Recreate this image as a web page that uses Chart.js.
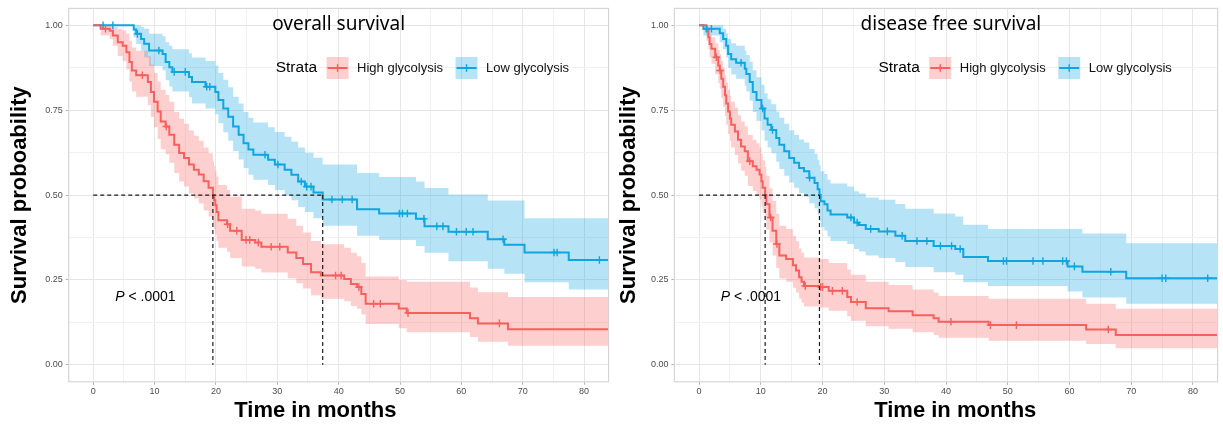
<!DOCTYPE html>
<html>
<head>
<meta charset="utf-8">
<script src="https://cdn.jsdelivr.net/npm/chart.js@4.4.1/dist/chart.umd.min.js"></script>
<style>
  body { margin: 0; background: #fff; }
  #wrap { position: relative; width: 1223px; height: 425px; }
  #os-chart { position: absolute; left: 0; top: 0; }
  #dfs-chart { position: absolute; left: 614px; top: 0; }
</style>
</head>
<body>
<div id="wrap">
  <canvas id="os-chart" width="614" height="425"></canvas>
  <canvas id="dfs-chart" width="609" height="425"></canvas>
</div>
<script>
// ---- overall survival, high glycolysis
const osHighTime  = [0, 1.2, 2.7, 3.2, 4.0, 4.8, 5.4, 5.9, 6.3, 7.0, 8.9, 9.4, 9.9, 10.5, 11.0, 11.8, 12.4, 13.2, 14.0, 14.8, 15.6, 16.4, 17.2, 18.0, 18.8, 19.5, 19.7, 19.9, 20.1, 20.4, 21.8, 22.3, 24.2, 26.4, 27.4, 31.7, 33.1, 34.2, 35.5, 37.1, 40.9, 42.0, 43.0, 43.7, 44.4, 49.8, 51.1, 61.4, 62.7, 67.6, 84];
const osHighSurv  = [1, 0.99, 0.984, 0.97, 0.95, 0.94, 0.921, 0.892, 0.867, 0.853, 0.833, 0.804, 0.775, 0.746, 0.717, 0.702, 0.678, 0.648, 0.624, 0.609, 0.59, 0.575, 0.561, 0.541, 0.522, 0.5, 0.485, 0.47, 0.45, 0.426, 0.414, 0.395, 0.368, 0.36, 0.348, 0.331, 0.315, 0.297, 0.273, 0.263, 0.253, 0.238, 0.229, 0.209, 0.18, 0.166, 0.153, 0.137, 0.122, 0.105, 0.105];
const osHighLower = [1, 0.97, 0.96, 0.94, 0.91, 0.895, 0.87, 0.835, 0.805, 0.79, 0.765, 0.73, 0.7, 0.665, 0.635, 0.62, 0.595, 0.565, 0.54, 0.525, 0.505, 0.49, 0.475, 0.455, 0.437, 0.415, 0.4, 0.385, 0.365, 0.345, 0.333, 0.315, 0.29, 0.283, 0.272, 0.255, 0.24, 0.225, 0.205, 0.195, 0.187, 0.173, 0.165, 0.148, 0.12, 0.108, 0.096, 0.082, 0.068, 0.056, 0.056];
const osHighUpper = [1, 1, 1, 0.995, 0.99, 0.985, 0.975, 0.955, 0.935, 0.925, 0.91, 0.885, 0.86, 0.835, 0.81, 0.795, 0.775, 0.745, 0.725, 0.71, 0.69, 0.675, 0.66, 0.64, 0.623, 0.6, 0.585, 0.57, 0.555, 0.53, 0.515, 0.495, 0.46, 0.455, 0.445, 0.43, 0.41, 0.39, 0.365, 0.355, 0.345, 0.33, 0.32, 0.3, 0.26, 0.25, 0.245, 0.228, 0.214, 0.2, 0.2];
const osHighCensor = [2.0, 8.0, 11.9, 21.9, 23.4, 24.9, 25.5, 26.9, 29.0, 30.4, 39.5, 40.4, 43.3, 45.7, 46.8, 51.3, 66.2];

// ---- overall survival, low glycolysis
const osLowTime  = [0, 6.6, 7.0, 7.8, 8.3, 9.1, 11.3, 11.8, 12.4, 12.9, 15.6, 16.1, 18.3, 19.9, 20.4, 21.2, 22.0, 22.8, 23.7, 24.5, 25.3, 26.1, 28.5, 29.6, 31.2, 32.3, 33.4, 34.5, 35.9, 37.4, 43.0, 46.6, 52.6, 54.0, 57.9, 64.3, 67.0, 70.3, 77.5, 84];
const osLowSurv  = [1, 0.988, 0.975, 0.96, 0.946, 0.926, 0.916, 0.892, 0.877, 0.863, 0.848, 0.833, 0.819, 0.804, 0.78, 0.755, 0.731, 0.702, 0.678, 0.653, 0.634, 0.619, 0.604, 0.59, 0.575, 0.56, 0.54, 0.525, 0.508, 0.487, 0.458, 0.446, 0.43, 0.408, 0.392, 0.37, 0.354, 0.331, 0.309, 0.309];
const osLowLower = [1, 0.965, 0.945, 0.925, 0.905, 0.88, 0.868, 0.838, 0.82, 0.805, 0.788, 0.77, 0.755, 0.738, 0.712, 0.685, 0.66, 0.63, 0.605, 0.58, 0.56, 0.545, 0.53, 0.515, 0.5, 0.485, 0.465, 0.45, 0.432, 0.41, 0.38, 0.368, 0.35, 0.33, 0.305, 0.283, 0.268, 0.243, 0.222, 0.222];
const osLowUpper = [1, 1, 1, 0.995, 0.99, 0.975, 0.968, 0.95, 0.94, 0.93, 0.918, 0.905, 0.895, 0.882, 0.86, 0.84, 0.818, 0.79, 0.77, 0.745, 0.728, 0.714, 0.7, 0.686, 0.672, 0.658, 0.64, 0.625, 0.61, 0.59, 0.565, 0.553, 0.54, 0.521, 0.502, 0.484, 0.484, 0.432, 0.432, 0.432];
const osLowCensor = [1.6, 3.2, 7.2, 10.7, 13.2, 15.0, 18.5, 19.0, 28.0, 30.1, 33.9, 34.8, 35.5, 38.9, 40.6, 42.2, 49.9, 50.4, 51.2, 53.9, 56.0, 57.0, 59.2, 60.8, 61.9, 66.8, 75.1, 75.6, 82.5];

// ---- disease free survival, high glycolysis
const dfsHighTime  = [0, 1.2, 1.5, 1.7, 2.0, 2.6, 3.1, 3.35, 3.6, 3.9, 4.2, 4.4, 4.7, 5.0, 5.2, 5.8, 6.3, 6.8, 7.4, 7.9, 8.7, 9.3, 9.8, 10.1, 10.3, 10.7, 10.9, 11.4, 11.9, 12.5, 13.0, 14.1, 15.2, 15.7, 16.2, 16.6, 17.0, 19.5, 21.0, 24.0, 24.6, 27.0, 30.7, 34.6, 38.0, 38.8, 46.9, 62.7, 67.5, 84];
const dfsHighSurv  = [1, 0.984, 0.965, 0.945, 0.931, 0.906, 0.882, 0.867, 0.843, 0.819, 0.794, 0.77, 0.746, 0.726, 0.707, 0.687, 0.663, 0.643, 0.629, 0.6, 0.585, 0.575, 0.561, 0.541, 0.522, 0.5, 0.473, 0.434, 0.395, 0.356, 0.322, 0.312, 0.293, 0.278, 0.258, 0.245, 0.232, 0.229, 0.218, 0.2, 0.185, 0.167, 0.158, 0.146, 0.137, 0.127, 0.117, 0.104, 0.088, 0.088];
const dfsHighLower = [1, 0.955, 0.93, 0.905, 0.887, 0.857, 0.83, 0.813, 0.786, 0.76, 0.733, 0.707, 0.68, 0.66, 0.64, 0.618, 0.593, 0.572, 0.557, 0.527, 0.512, 0.5, 0.487, 0.467, 0.447, 0.425, 0.398, 0.36, 0.322, 0.285, 0.254, 0.245, 0.227, 0.213, 0.195, 0.183, 0.172, 0.169, 0.159, 0.143, 0.13, 0.114, 0.106, 0.096, 0.088, 0.08, 0.071, 0.061, 0.049, 0.049];
const dfsHighUpper = [1, 1, 0.99, 0.975, 0.965, 0.947, 0.928, 0.915, 0.895, 0.875, 0.853, 0.832, 0.81, 0.792, 0.775, 0.757, 0.735, 0.717, 0.703, 0.677, 0.663, 0.653, 0.64, 0.621, 0.603, 0.583, 0.557, 0.52, 0.483, 0.445, 0.41, 0.4, 0.38, 0.364, 0.343, 0.33, 0.316, 0.312, 0.3, 0.281, 0.265, 0.245, 0.235, 0.222, 0.213, 0.203, 0.195, 0.18, 0.165, 0.165];
const dfsHighCensor = [2.8, 3.4, 8.2, 11.6, 12.6, 17.2, 19.7, 20.0, 21.6, 23.2, 25.6, 40.8, 47.2, 51.4, 66.3];

// ---- disease free survival, low glycolysis
const dfsLowTime  = [0, 0.7, 3.35, 3.9, 4.4, 4.7, 5.2, 6.0, 7.4, 7.65, 8.2, 8.7, 9.3, 10.1, 10.6, 11.1, 11.7, 12.5, 13.0, 13.8, 14.6, 15.4, 16.2, 17.0, 17.85, 18.7, 19.2, 19.5, 19.7, 20.3, 20.8, 21.3, 24.0, 25.1, 25.9, 27.0, 29.1, 31.8, 33.4, 38.0, 41.5, 42.8, 46.8, 59.7, 62.1, 69.2, 84];
const dfsLowSurv  = [1, 0.99, 0.977, 0.96, 0.94, 0.916, 0.9, 0.89, 0.872, 0.857, 0.833, 0.804, 0.78, 0.755, 0.726, 0.707, 0.692, 0.668, 0.648, 0.629, 0.609, 0.595, 0.58, 0.57, 0.551, 0.536, 0.517, 0.5, 0.482, 0.473, 0.455, 0.443, 0.434, 0.419, 0.412, 0.4, 0.393, 0.38, 0.365, 0.35, 0.341, 0.318, 0.306, 0.29, 0.274, 0.255, 0.255];
const dfsLowLower = [1, 0.97, 0.95, 0.93, 0.905, 0.875, 0.855, 0.843, 0.822, 0.805, 0.778, 0.745, 0.718, 0.69, 0.66, 0.64, 0.623, 0.598, 0.577, 0.557, 0.537, 0.522, 0.506, 0.495, 0.476, 0.461, 0.442, 0.424, 0.405, 0.396, 0.378, 0.365, 0.356, 0.341, 0.334, 0.322, 0.315, 0.303, 0.288, 0.273, 0.265, 0.243, 0.232, 0.216, 0.198, 0.18, 0.18];
const dfsLowUpper = [1, 1, 1, 0.99, 0.977, 0.96, 0.947, 0.94, 0.926, 0.913, 0.893, 0.868, 0.847, 0.825, 0.8, 0.782, 0.768, 0.746, 0.728, 0.71, 0.691, 0.678, 0.664, 0.655, 0.636, 0.622, 0.604, 0.588, 0.57, 0.562, 0.545, 0.534, 0.525, 0.511, 0.505, 0.493, 0.486, 0.474, 0.46, 0.446, 0.437, 0.413, 0.4, 0.4, 0.387, 0.358, 0.358];
const dfsLowCensor = [1.2, 2.0, 6.8, 10.3, 11.9, 17.9, 24.6, 25.6, 27.8, 30.5, 32.9, 35.3, 36.9, 39.1, 40.9, 42.3, 49.3, 49.8, 54.1, 55.7, 58.9, 59.5, 60.8, 66.7, 75.0, 75.6, 82.4];

// median survival times (high, low)
const osMedians  = [19.5, 37.4];
const dfsMedians = [10.7, 19.5];

// texts and ticks
const strataLabels = ['High glycolysis', 'Low glycolysis'];
const legendTitle = 'Strata';
const pLabel = 'P';
const pValue = ' < .0001';
const yTitle = 'Survival proboability';
const xTitle = 'Time in months';
const xMajorStep = 10;
const yMajorStep = 0.25;

const RED = '#F8605E', RED_BAND = 'rgba(248, 96, 94, 0.3)';
const BLUE = '#0EA5E0', BLUE_BAND = 'rgba(14, 165, 224, 0.3)';
const GRID_MAJOR = '#E6E6E6', GRID_MINOR = '#F1F1F1';

Chart.defaults.font.family = '"Liberation Sans", Arial, sans-serif';

function stepPoints(times, values) {
	return times.map((t, i) => ({ x: t, y: values[i] }));
}

function survAt(times, surv, t) {
	let k = 0;
	for (let i = 0; i < times.length; i++) {
		if (times[i] <= t) k = i;
	}
	return surv[k];
}

function isMajor(v, step) {
	const r = v / step;
	return Math.abs(r - Math.round(r)) < 1e-6;
}

function groupDatasets(time, surv, lower, upper, censor, color, band) {
	return [
		{ data: stepPoints(time, upper), stepped: true, borderWidth: 0, borderColor: 'transparent', pointRadius: 0, backgroundColor: band, fill: '+1', order: 3 },
		{ data: stepPoints(time, lower), stepped: true, borderWidth: 0, borderColor: 'transparent', pointRadius: 0, fill: false, order: 3 },
		{ data: stepPoints(time, surv), stepped: true, borderColor: color, borderWidth: 2, pointRadius: 0, fill: false, order: 2 },
		{ data: censor.map(t => ({ x: t, y: survAt(time, surv, t) })), showLine: false, pointStyle: 'cross',
		  pointRadius: 3.8, pointBorderColor: color, pointBorderWidth: 1.4, order: 1 }
	];
}

function medianDatasets(medians) {
	const dash = { borderColor: '#1a1a1a', borderWidth: 1.2, borderDash: [4, 3], pointRadius: 0, fill: false, order: 0 };
	const sets = [{ ...dash, data: [{ x: 0, y: 0.5 }, { x: Math.max(...medians), y: 0.5 }] }];
	medians.forEach(m => sets.push({ ...dash, data: [{ x: m, y: 0.5 }, { x: m, y: 0 }] }));
	return sets;
}

// title, legend, p value, x title and panel border
const kmOverlay = {
	id: 'kmOverlay',
	afterDatasetsDraw(chart) {
		const { ctx, chartArea: a } = chart;
		ctx.save();
		ctx.strokeStyle = '#D6D6D6';
		ctx.lineWidth = 1.2;
		ctx.strokeRect(a.left, a.top, a.right - a.left, a.bottom - a.top);
		ctx.restore();
	},
	afterDraw(chart, args, o) {
		const { ctx, chartArea: a } = chart;
		const xs = chart.scales.x, ys = chart.scales.y;
		ctx.save();
		ctx.textBaseline = 'middle';
		ctx.fillStyle = '#000';

		ctx.textAlign = 'center';
		ctx.font = '19px "Noto Sans"';
		ctx.fillText(o.title, xs.getPixelForValue(o.titleAt), 25);

		ctx.font = 'bold 22px "Liberation Sans"';
		ctx.fillText(xTitle, xs.getPixelForValue(o.xTitleAt), 411);

		// legend
		ctx.textAlign = 'left';
		const yc = 68;
		ctx.font = '15.5px "Liberation Sans"';
		ctx.fillText(legendTitle, a.left + o.legendLeft, yc);
		let x = a.left + o.legendLeft + ctx.measureText(legendTitle).width + 9.5;
		const keys = [[RED, RED_BAND], [BLUE, BLUE_BAND]];
		strataLabels.forEach((label, i) => {
			ctx.fillStyle = keys[i][1];
			ctx.fillRect(x, yc - 11, 22, 22);
			ctx.strokeStyle = keys[i][0];
			ctx.lineWidth = 2;
			ctx.beginPath(); ctx.moveTo(x + 1, yc); ctx.lineTo(x + 21, yc); ctx.stroke();
			ctx.lineWidth = 1.4;
			ctx.beginPath(); ctx.moveTo(x + 11, yc - 3.8); ctx.lineTo(x + 11, yc + 3.8); ctx.stroke();
			x += 22 + 8.5;
			ctx.fillStyle = '#111';
			ctx.font = '13px "Liberation Sans"';
			ctx.fillText(label, x, yc);
			x += ctx.measureText(label).width + 12.5;
		});

		// p value
		const px = xs.getPixelForValue(o.pAt[0]), py = ys.getPixelForValue(o.pAt[1]);
		ctx.fillStyle = '#000';
		ctx.font = 'italic 14px "Liberation Sans"';
		ctx.fillText(pLabel, px, py);
		const w = ctx.measureText(pLabel).width;
		ctx.font = '14px "Liberation Sans"';
		ctx.fillText(pValue, px + w, py);
		ctx.restore();
	}
};

function makeChart(id, datasets, o) {
	return new Chart(document.getElementById(id), {
		type: 'line',
		data: { datasets: datasets },
		plugins: [kmOverlay],
		options: {
			responsive: false,
			animation: false,
			layout: { padding: { top: 5.6, right: o.padRight, bottom: 0, left: 0 } },
			plugins: {
				legend: { display: false },
				tooltip: { enabled: false },
				kmOverlay: o
			},
			scales: {
				x: {
					type: 'linear', min: -4, max: 84,
					afterFit: s => { s.height = 43.2; },
					ticks: {
						stepSize: 5, includeBounds: false, autoSkip: false, maxRotation: 0, padding: 1,
						color: '#4D4D4D', font: { size: 9 },
						callback: v => isMajor(v, xMajorStep) ? String(v) : ''
					},
					grid: {
						color: c => (c.tick && isMajor(c.tick.value, xMajorStep)) ? GRID_MAJOR : GRID_MINOR,
						tickColor: c => (c.tick && isMajor(c.tick.value, xMajorStep)) ? '#B3B3B3' : 'transparent',
						tickLength: 3
					},
					border: { display: false }
				},
				y: {
					min: -0.05, max: 1.05,
					afterFit: s => { s.width = o.yAxisWidth; },
					ticks: {
						stepSize: 0.125, includeBounds: false, autoSkip: false, padding: 3,
						color: '#4D4D4D', font: { size: 9 },
						callback: v => isMajor(v, yMajorStep) ? v.toFixed(2) : ''
					},
					grid: {
						color: c => (c.tick && isMajor(c.tick.value, yMajorStep)) ? GRID_MAJOR : GRID_MINOR,
						tickColor: c => (c.tick && isMajor(c.tick.value, yMajorStep)) ? '#B3B3B3' : 'transparent',
						tickLength: 3
					},
					border: { display: false },
					title: {
						display: true, text: yTitle, color: '#000',
						font: { size: 22, weight: 'bold' },
						padding: { top: o.yTitlePad, bottom: 0 }
					}
				}
			}
		}
	});
}

makeChart('os-chart',
	[].concat(
		groupDatasets(osHighTime, osHighSurv, osHighLower, osHighUpper, osHighCensor, RED, RED_BAND),
		groupDatasets(osLowTime, osLowSurv, osLowLower, osLowUpper, osLowCensor, BLUE, BLUE_BAND),
		medianDatasets(osMedians)
	),
	{ title: 'overall survival', titleAt: 40, xTitleAt: 36.2, legendLeft: 207, pAt: [3.6, 0.2],
	  yAxisWidth: 68.7, yTitlePad: 7, padRight: 0.7 }
);

makeChart('dfs-chart',
	[].concat(
		groupDatasets(dfsHighTime, dfsHighSurv, dfsHighLower, dfsHighUpper, dfsHighCensor, RED, RED_BAND),
		groupDatasets(dfsLowTime, dfsLowSurv, dfsLowLower, dfsLowUpper, dfsLowCensor, BLUE, BLUE_BAND),
		medianDatasets(dfsMedians)
	),
	{ title: 'disease free survival', titleAt: 40.8, xTitleAt: 41.5, legendLeft: 204, pAt: [3.5, 0.2],
	  yAxisWidth: 60.4, yTitlePad: 2, padRight: 3 }
);
</script>
</body>
</html>
